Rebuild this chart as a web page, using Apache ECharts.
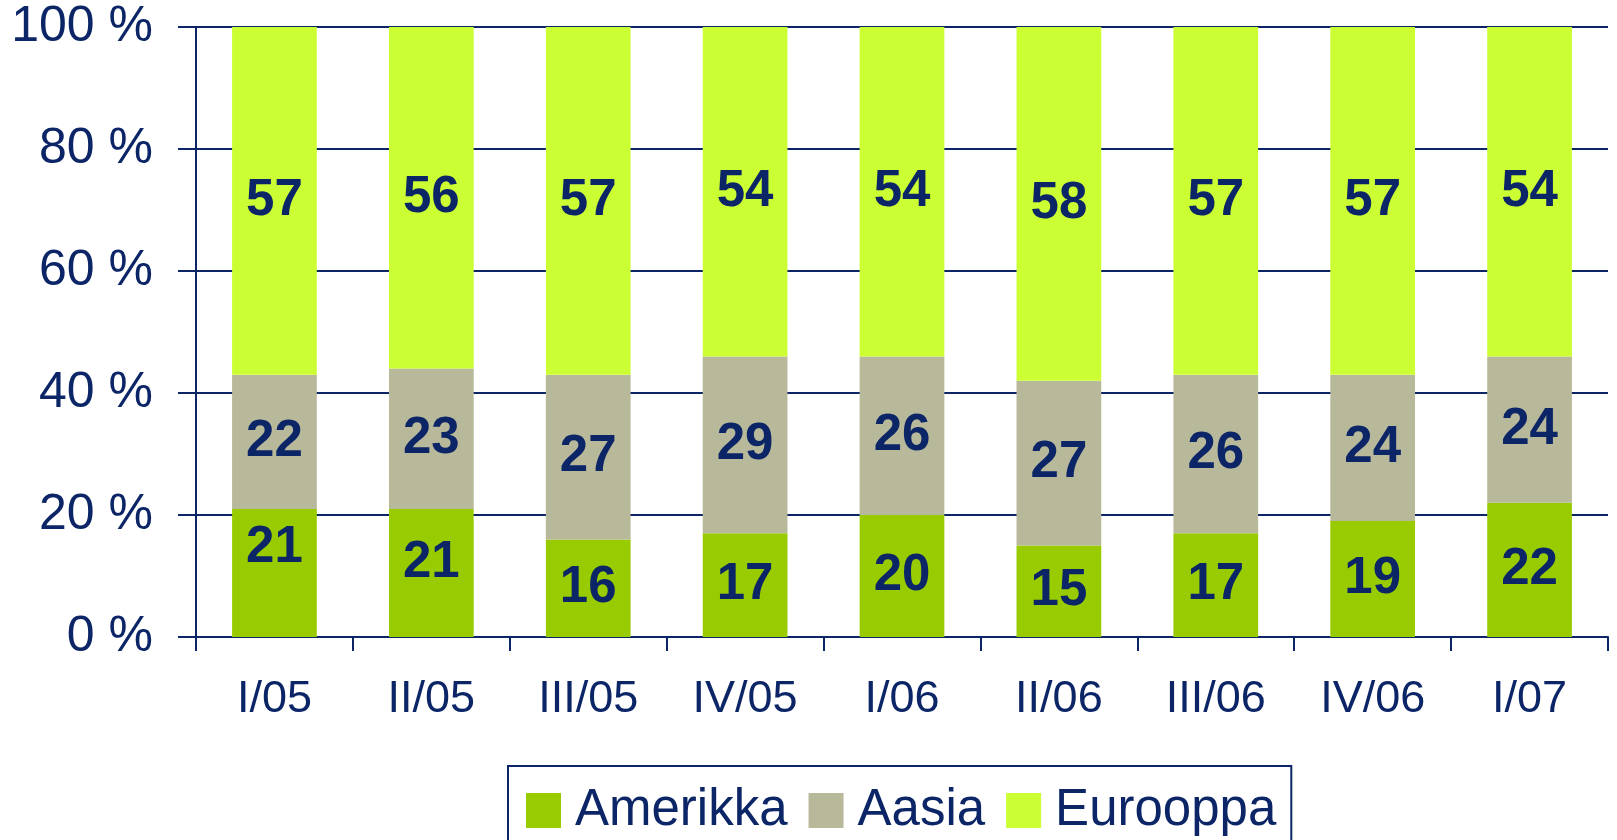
<!DOCTYPE html>
<html>
<head>
<meta charset="utf-8">
<script src="https://cdn.jsdelivr.net/npm/echarts@6/dist/echarts.min.js"></script>
<style>
  html, body { margin: 0; padding: 0; background: #fff; }
  #chart { width: 1617px; height: 840px; }
</style>
</head>
<body>
<div id="chart"></div>
<script>
  // kvartaalit
  const categories = ['I/05', 'II/05', 'III/05', 'IV/05', 'I/06', 'II/06', 'III/06', 'IV/06', 'I/07'];
  // osuudet prosentteina
  const amerikka = [21, 21, 16, 17, 20, 15, 17, 19, 22];
  const aasia = [22, 23, 27, 29, 26, 27, 26, 24, 24];
  const eurooppa = [57, 56, 57, 54, 54, 58, 57, 57, 54];

  const navy = '#0b2566';
  const font = '"Liberation Sans", Arial, sans-serif';

  const myChart = echarts.init(document.getElementById('chart'));

  const label = {
    show: true,
    position: 'inside',
    color: navy,
    fontFamily: font,
    fontWeight: 'bold',
    fontSize: 51
  };

  // alkuperäisessä kaksi ensimmäistä Amerikka-lukua ovat hieman ylempänä
  const amerikkaOffsets = [-25, -10];
  const amerikkaData = amerikka.map((v, i) => amerikkaOffsets[i]
    ? { value: v, label: { offset: [0, amerikkaOffsets[i]] } }
    : v);

  const option = {
    backgroundColor: '#fff',
    animation: false,
    color: ['#99cc00', '#b8b89a', '#ccff33'],
    grid: { left: 196, right: 9, top: 27, bottom: 203 },
    legend: {
      left: 508,
      top: 766,
      padding: [19, 15, 40, 18],
      borderColor: navy,
      borderWidth: 2,
      itemWidth: 35,
      itemHeight: 35,
      itemGap: 21,
      icon: 'rect',
      textStyle: { color: navy, fontFamily: font, fontSize: 51, padding: [0, 0, 0, 9] },
      data: ['Amerikka', 'Aasia', 'Eurooppa']
    },
    xAxis: {
      type: 'category',
      data: categories,
      axisLine: { lineStyle: { color: navy, width: 2 } },
      axisTick: { show: true, length: 14, lineStyle: { color: navy, width: 2 } },
      axisLabel: { color: navy, fontFamily: font, fontSize: 45, margin: 40 }
    },
    yAxis: {
      type: 'value',
      min: 0,
      max: 100,
      interval: 20,
      axisLine: { show: true, lineStyle: { color: navy, width: 2 } },
      axisTick: { show: true, length: 18, lineStyle: { color: navy, width: 2 } },
      splitLine: { lineStyle: { color: navy, width: 2 } },
      axisLabel: { color: navy, fontFamily: font, fontSize: 50, margin: 43, formatter: '{value} %' }
    },
    series: [
      { name: 'Amerikka', type: 'bar', stack: 'yht', barWidth: '54%', label: label, data: amerikkaData },
      { name: 'Aasia', type: 'bar', stack: 'yht', barWidth: '54%', label: label, data: aasia },
      { name: 'Eurooppa', type: 'bar', stack: 'yht', barWidth: '54%', label: label, data: eurooppa }
    ]
  };

  myChart.setOption(option);
  window.addEventListener('resize', function () { myChart.resize() });
</script>
</body>
</html>
